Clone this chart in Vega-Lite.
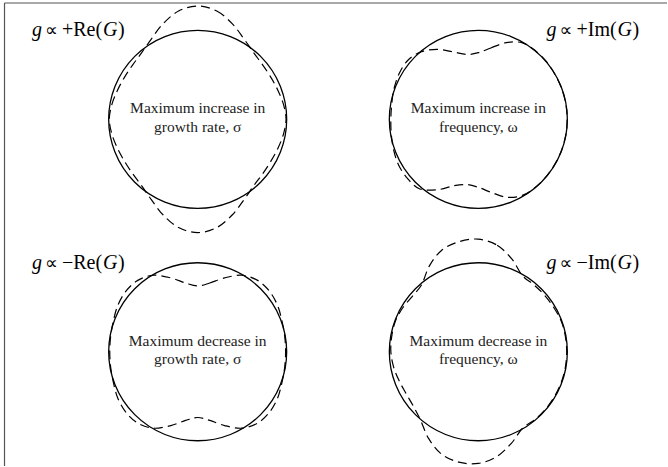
{
  "$schema": "https://vega.github.io/schema/vega-lite/v6.json",
  "width": 668,
  "height": 467,
  "autosize": {"type": "fit", "contains": "padding"},
  "padding": 0,
  "background": "white",
  "config": {"view": {"stroke": null}},
  "datasets": {
    "frame": [
      {"x": -3.774, "x2": 3.723, "y": 2.633, "y2": 2.633},
      {"x": -3.774, "x2": -3.774, "y": 2.633, "y2": -2.61}
    ],
    "circles": [
      {"p": "TL", "x": -1.588, "y": 1.316},
      {"p": "TR", "x": 1.588, "y": 1.316},
      {"p": "BL", "x": -1.588, "y": -1.316},
      {"p": "BR", "x": 1.588, "y": -1.316}
    ],
    "outline": [
      {"p": "TL", "i": 0, "x": -1.588, "y": 2.599},
      {"p": "TL", "i": 1, "x": -1.372, "y": 2.542},
      {"p": "TL", "i": 2, "x": -1.195, "y": 2.397},
      {"p": "TL", "i": 3, "x": -1.063, "y": 2.225},
      {"p": "TL", "i": 4, "x": -0.955, "y": 2.071},
      {"p": "TL", "i": 5, "x": -0.853, "y": 1.933},
      {"p": "TL", "i": 6, "x": -0.761, "y": 1.794},
      {"p": "TL", "i": 7, "x": -0.681, "y": 1.646},
      {"p": "TL", "i": 8, "x": -0.618, "y": 1.487},
      {"p": "TL", "i": 9, "x": -0.588, "y": 1.316},
      {"p": "TL", "i": 10, "x": -0.618, "y": 1.145},
      {"p": "TL", "i": 11, "x": -0.681, "y": 0.986},
      {"p": "TL", "i": 12, "x": -0.761, "y": 0.839},
      {"p": "TL", "i": 13, "x": -0.853, "y": 0.699},
      {"p": "TL", "i": 14, "x": -0.955, "y": 0.562},
      {"p": "TL", "i": 15, "x": -1.063, "y": 0.407},
      {"p": "TL", "i": 16, "x": -1.195, "y": 0.235},
      {"p": "TL", "i": 17, "x": -1.372, "y": 0.090},
      {"p": "TL", "i": 18, "x": -1.588, "y": 0.033},
      {"p": "TL", "i": 19, "x": -1.804, "y": 0.090},
      {"p": "TL", "i": 20, "x": -1.981, "y": 0.235},
      {"p": "TL", "i": 21, "x": -2.113, "y": 0.407},
      {"p": "TL", "i": 22, "x": -2.221, "y": 0.562},
      {"p": "TL", "i": 23, "x": -2.323, "y": 0.699},
      {"p": "TL", "i": 24, "x": -2.415, "y": 0.839},
      {"p": "TL", "i": 25, "x": -2.495, "y": 0.986},
      {"p": "TL", "i": 26, "x": -2.558, "y": 1.145},
      {"p": "TL", "i": 27, "x": -2.588, "y": 1.316},
      {"p": "TL", "i": 28, "x": -2.558, "y": 1.487},
      {"p": "TL", "i": 29, "x": -2.495, "y": 1.646},
      {"p": "TL", "i": 30, "x": -2.415, "y": 1.794},
      {"p": "TL", "i": 31, "x": -2.323, "y": 1.933},
      {"p": "TL", "i": 32, "x": -2.221, "y": 2.071},
      {"p": "TL", "i": 33, "x": -2.113, "y": 2.225},
      {"p": "TL", "i": 34, "x": -1.981, "y": 2.397},
      {"p": "TL", "i": 35, "x": -1.804, "y": 2.542},

      {"p": "BL", "i": 0, "x": -1.588, "y": -0.571},
      {"p": "BL", "i": 1, "x": -1.451, "y": -0.538},
      {"p": "BL", "i": 2, "x": -1.284, "y": -0.480},
      {"p": "BL", "i": 3, "x": -1.088, "y": -0.450},
      {"p": "BL", "i": 4, "x": -0.910, "y": -0.508},
      {"p": "BL", "i": 5, "x": -0.774, "y": -0.633},
      {"p": "BL", "i": 6, "x": -0.683, "y": -0.794},
      {"p": "BL", "i": 7, "x": -0.634, "y": -0.969},
      {"p": "BL", "i": 8, "x": -0.603, "y": -1.142},
      {"p": "BL", "i": 9, "x": -0.593, "y": -1.316},
      {"p": "BL", "i": 10, "x": -0.603, "y": -1.490},
      {"p": "BL", "i": 11, "x": -0.634, "y": -1.663},
      {"p": "BL", "i": 12, "x": -0.683, "y": -1.839},
      {"p": "BL", "i": 13, "x": -0.774, "y": -1.999},
      {"p": "BL", "i": 14, "x": -0.910, "y": -2.124},
      {"p": "BL", "i": 15, "x": -1.088, "y": -2.182},
      {"p": "BL", "i": 16, "x": -1.284, "y": -2.152},
      {"p": "BL", "i": 17, "x": -1.451, "y": -2.094},
      {"p": "BL", "i": 18, "x": -1.588, "y": -2.061},
      {"p": "BL", "i": 19, "x": -1.725, "y": -2.094},
      {"p": "BL", "i": 20, "x": -1.892, "y": -2.152},
      {"p": "BL", "i": 21, "x": -2.088, "y": -2.182},
      {"p": "BL", "i": 22, "x": -2.266, "y": -2.124},
      {"p": "BL", "i": 23, "x": -2.402, "y": -1.999},
      {"p": "BL", "i": 24, "x": -2.493, "y": -1.839},
      {"p": "BL", "i": 25, "x": -2.542, "y": -1.663},
      {"p": "BL", "i": 26, "x": -2.573, "y": -1.490},
      {"p": "BL", "i": 27, "x": -2.583, "y": -1.316},
      {"p": "BL", "i": 28, "x": -2.573, "y": -1.142},
      {"p": "BL", "i": 29, "x": -2.542, "y": -0.969},
      {"p": "BL", "i": 30, "x": -2.493, "y": -0.794},
      {"p": "BL", "i": 31, "x": -2.402, "y": -0.633},
      {"p": "BL", "i": 32, "x": -2.266, "y": -0.508},
      {"p": "BL", "i": 33, "x": -2.088, "y": -0.450},
      {"p": "BL", "i": 34, "x": -1.892, "y": -0.480},
      {"p": "BL", "i": 35, "x": -1.725, "y": -0.538},

      {"p": "TR", "i": 0, "x": 1.588, "y": 2.071},
      {"p": "TR", "i": 1, "x": 1.730, "y": 2.124},
      {"p": "TR", "i": 2, "x": 1.904, "y": 2.185},
      {"p": "TR", "i": 3, "x": 2.088, "y": 2.182},
      {"p": "TR", "i": 4, "x": 2.237, "y": 2.090},
      {"p": "TR", "i": 5, "x": 2.362, "y": 1.965},
      {"p": "TR", "i": 6, "x": 2.458, "y": 1.819},
      {"p": "TR", "i": 7, "x": 2.532, "y": 1.660},
      {"p": "TR", "i": 8, "x": 2.578, "y": 1.491},
      {"p": "TR", "i": 9, "x": 2.593, "y": 1.316},
      {"p": "TR", "i": 10, "x": 2.578, "y": 1.142},
      {"p": "TR", "i": 11, "x": 2.532, "y": 0.972},
      {"p": "TR", "i": 12, "x": 2.458, "y": 0.814},
      {"p": "TR", "i": 13, "x": 2.358, "y": 0.670},
      {"p": "TR", "i": 14, "x": 2.234, "y": 0.546},
      {"p": "TR", "i": 15, "x": 2.086, "y": 0.454},
      {"p": "TR", "i": 16, "x": 1.910, "y": 0.433},
      {"p": "TR", "i": 17, "x": 1.734, "y": 0.489},
      {"p": "TR", "i": 18, "x": 1.588, "y": 0.546},
      {"p": "TR", "i": 19, "x": 1.458, "y": 0.577},
      {"p": "TR", "i": 20, "x": 1.314, "y": 0.564},
      {"p": "TR", "i": 21, "x": 1.128, "y": 0.519},
      {"p": "TR", "i": 22, "x": 0.926, "y": 0.527},
      {"p": "TR", "i": 23, "x": 0.788, "y": 0.644},
      {"p": "TR", "i": 24, "x": 0.687, "y": 0.796},
      {"p": "TR", "i": 25, "x": 0.630, "y": 0.967},
      {"p": "TR", "i": 26, "x": 0.603, "y": 1.142},
      {"p": "TR", "i": 27, "x": 0.598, "y": 1.316},
      {"p": "TR", "i": 28, "x": 0.608, "y": 1.489},
      {"p": "TR", "i": 29, "x": 0.634, "y": 1.663},
      {"p": "TR", "i": 30, "x": 0.692, "y": 1.834},
      {"p": "TR", "i": 31, "x": 0.791, "y": 1.985},
      {"p": "TR", "i": 32, "x": 0.945, "y": 2.082},
      {"p": "TR", "i": 33, "x": 1.131, "y": 2.108},
      {"p": "TR", "i": 34, "x": 1.311, "y": 2.077},
      {"p": "TR", "i": 35, "x": 1.459, "y": 2.050},

      {"p": "BR", "i": 0, "x": 1.588, "y": -0.041},
      {"p": "BR", "i": 1, "x": 1.801, "y": -0.110},
      {"p": "BR", "i": 2, "x": 1.969, "y": -0.268},
      {"p": "BR", "i": 3, "x": 2.086, "y": -0.454},
      {"p": "BR", "i": 4, "x": 2.221, "y": -0.562},
      {"p": "BR", "i": 5, "x": 2.343, "y": -0.683},
      {"p": "BR", "i": 6, "x": 2.445, "y": -0.821},
      {"p": "BR", "i": 7, "x": 2.528, "y": -0.974},
      {"p": "BR", "i": 8, "x": 2.573, "y": -1.142},
      {"p": "BR", "i": 9, "x": 2.588, "y": -1.316},
      {"p": "BR", "i": 10, "x": 2.573, "y": -1.490},
      {"p": "BR", "i": 11, "x": 2.528, "y": -1.658},
      {"p": "BR", "i": 12, "x": 2.454, "y": -1.816},
      {"p": "BR", "i": 13, "x": 2.354, "y": -1.959},
      {"p": "BR", "i": 14, "x": 2.231, "y": -2.082},
      {"p": "BR", "i": 15, "x": 2.088, "y": -2.182},
      {"p": "BR", "i": 16, "x": 1.964, "y": -2.350},
      {"p": "BR", "i": 17, "x": 1.797, "y": -2.503},
      {"p": "BR", "i": 18, "x": 1.588, "y": -2.581},
      {"p": "BR", "i": 19, "x": 1.368, "y": -2.567},
      {"p": "BR", "i": 20, "x": 1.167, "y": -2.472},
      {"p": "BR", "i": 21, "x": 1.023, "y": -2.295},
      {"p": "BR", "i": 22, "x": 0.936, "y": -2.094},
      {"p": "BR", "i": 23, "x": 0.853, "y": -1.933},
      {"p": "BR", "i": 24, "x": 0.770, "y": -1.789},
      {"p": "BR", "i": 25, "x": 0.691, "y": -1.643},
      {"p": "BR", "i": 26, "x": 0.628, "y": -1.485},
      {"p": "BR", "i": 27, "x": 0.598, "y": -1.316},
      {"p": "BR", "i": 28, "x": 0.608, "y": -1.143},
      {"p": "BR", "i": 29, "x": 0.648, "y": -0.974},
      {"p": "BR", "i": 30, "x": 0.731, "y": -0.821},
      {"p": "BR", "i": 31, "x": 0.841, "y": -0.689},
      {"p": "BR", "i": 32, "x": 0.948, "y": -0.554},
      {"p": "BR", "i": 33, "x": 1.031, "y": -0.350},
      {"p": "BR", "i": 34, "x": 1.171, "y": -0.169},
      {"p": "BR", "i": 35, "x": 1.368, "y": -0.070}
    ],
    "corner": [
      {"p": "TL", "x": -3.463, "y": 2.26, "mid": "+Re("},
      {"p": "TR", "x": 2.359, "y": 2.26, "mid": "+Im("},
      {"p": "BL", "x": -3.463, "y": -0.376, "mid": "−Re("},
      {"p": "BR", "x": 2.359, "y": -0.376, "mid": "−Im("}
    ],
    "center": [
      {"p": "TL", "x": -1.588, "y": 1.386, "t": "Maximum increase in\ngrowth rate, σ"},
      {"p": "TR", "x": 1.588, "y": 1.386, "t": "Maximum increase in\nfrequency, ω"},
      {"p": "BL", "x": -1.588, "y": -1.246, "t": "Maximum decrease in\ngrowth rate, σ"},
      {"p": "BR", "x": 1.588, "y": -1.246, "t": "Maximum decrease in\nfrequency, ω"}
    ]
  },
  "encoding": {
    "x": {"field": "x", "type": "quantitative", "scale": {"domain": [-3.825, 3.723], "nice": false, "zero": false}, "axis": null},
    "y": {"field": "y", "type": "quantitative", "scale": {"domain": [-2.61, 2.667], "nice": false, "zero": false}, "axis": null}
  },
  "layer": [
    {
      "data": {"name": "frame"},
      "mark": {"type": "rule", "color": "#555555", "strokeWidth": 1.2},
      "encoding": {"x2": {"field": "x2"}, "y2": {"field": "y2"}}
    },
    {
      "data": {"name": "circles"},
      "mark": {"type": "point", "shape": "circle", "filled": false, "size": 31684, "stroke": "black", "strokeWidth": 1.3, "opacity": 1}
    },
    {
      "data": {"name": "outline"},
      "mark": {"type": "line", "interpolate": "cardinal-closed", "color": "black", "strokeWidth": 1.2, "strokeDash": [9, 5]},
      "encoding": {"detail": {"field": "p"}, "order": {"field": "i", "type": "quantitative"}}
    },
    {
      "data": {"name": "center"},
      "mark": {"type": "text", "font": "Liberation Serif", "fontSize": 15.5, "align": "center", "baseline": "alphabetic", "lineBreak": "\n", "lineHeight": 18.5, "color": "#222222"},
      "encoding": {"text": {"field": "t"}}
    },
    {
      "data": {"name": "corner"},
      "mark": {"type": "text", "text": "g", "font": "Liberation Serif", "fontStyle": "italic", "fontSize": 20, "align": "left", "baseline": "alphabetic", "color": "black"}
    },
    {
      "data": {"name": "corner"},
      "mark": {"type": "text", "text": "∝", "font": "DejaVu Sans", "fontSize": 18, "align": "left", "baseline": "alphabetic", "dx": 13, "color": "black"}
    },
    {
      "data": {"name": "corner"},
      "mark": {"type": "text", "font": "Liberation Serif", "fontSize": 20, "align": "left", "baseline": "alphabetic", "dx": 30, "color": "black"},
      "encoding": {"text": {"field": "mid"}}
    },
    {
      "data": {"name": "corner"},
      "mark": {"type": "text", "text": "G", "font": "Liberation Serif", "fontStyle": "italic", "fontSize": 20, "align": "left", "baseline": "alphabetic", "dx": 71, "color": "black"}
    },
    {
      "data": {"name": "corner"},
      "mark": {"type": "text", "text": ")", "font": "Liberation Serif", "fontSize": 20, "align": "left", "baseline": "alphabetic", "dx": 86, "color": "black"}
    }
  ]
}
